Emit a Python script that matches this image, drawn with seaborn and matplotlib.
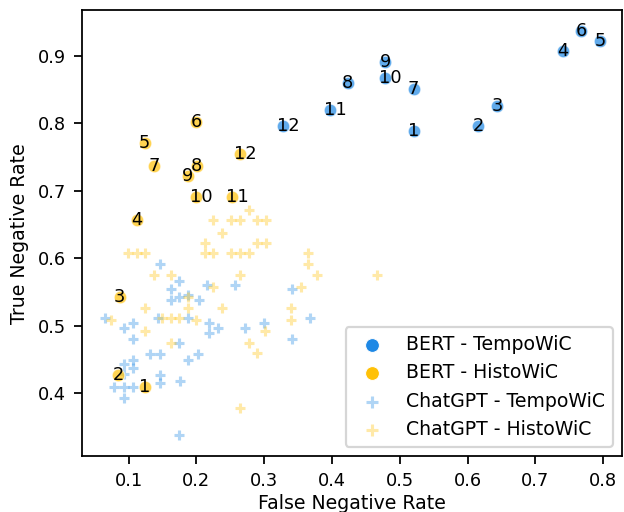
import matplotlib
matplotlib.use("Agg")
import matplotlib.pyplot as plt
import seaborn as sns

BLUE = "#1E88E5"
YELLOW = "#FFC107"

# labels 1..12 for the BERT runs
bert_ids = list(range(1, 13))

bert_tempo_fnr = [0.521, 0.616, 0.644, 0.741, 0.796, 0.768, 0.521, 0.424, 0.479, 0.479, 0.397, 0.328]
bert_tempo_tnr = [0.789, 0.795, 0.826, 0.906, 0.921, 0.937, 0.850, 0.860, 0.890, 0.866, 0.820, 0.795]

bert_histo_fnr = [0.125, 0.085, 0.087, 0.113, 0.124, 0.200, 0.138, 0.201, 0.188, 0.199, 0.253, 0.265]
bert_histo_tnr = [0.409, 0.427, 0.542, 0.657, 0.771, 0.802, 0.737, 0.737, 0.722, 0.690, 0.690, 0.754]

chatgpt_tempo_fnr = [0.065, 0.093, 0.107, 0.107, 0.147, 0.175, 0.162, 0.162, 0.175, 0.188,
                     0.204, 0.144, 0.188, 0.175, 0.132, 0.147, 0.188, 0.203, 0.093, 0.107,
                     0.107, 0.093, 0.147, 0.147, 0.176, 0.078, 0.093, 0.107, 0.093, 0.175,
                     0.218, 0.218, 0.232, 0.216, 0.257, 0.272, 0.300, 0.341, 0.341, 0.368]
chatgpt_tempo_tnr = [0.512, 0.496, 0.504, 0.480, 0.592, 0.567, 0.554, 0.538, 0.542, 0.545,
                     0.538, 0.512, 0.512, 0.475, 0.458, 0.458, 0.450, 0.458, 0.444, 0.449,
                     0.438, 0.428, 0.427, 0.416, 0.418, 0.409, 0.409, 0.409, 0.393, 0.339,
                     0.504, 0.489, 0.496, 0.561, 0.561, 0.496, 0.504, 0.554, 0.481, 0.512]

chatgpt_histo_fnr = [0.099, 0.112, 0.125, 0.225, 0.251, 0.265, 0.290, 0.303, 0.278, 0.238,
                     0.213, 0.213, 0.225, 0.251, 0.265, 0.278, 0.290, 0.303, 0.138, 0.162,
                     0.265, 0.225, 0.188, 0.188, 0.124, 0.238, 0.074, 0.150, 0.162, 0.175,
                     0.200, 0.124, 0.162, 0.278, 0.290, 0.301, 0.265, 0.340, 0.340, 0.354,
                     0.365, 0.365, 0.378, 0.466]
chatgpt_histo_tnr = [0.607, 0.607, 0.607, 0.657, 0.657, 0.657, 0.657, 0.657, 0.672, 0.638,
                     0.623, 0.607, 0.607, 0.607, 0.607, 0.607, 0.623, 0.623, 0.575, 0.575,
                     0.575, 0.558, 0.543, 0.526, 0.526, 0.526, 0.508, 0.511, 0.511, 0.511,
                     0.508, 0.492, 0.475, 0.475, 0.459, 0.492, 0.378, 0.526, 0.509, 0.558,
                     0.607, 0.592, 0.575, 0.575]

fig, ax = plt.subplots(figsize=(3.9, 3.2), dpi=160)
fig.subplots_adjust(left=0.131, right=0.997, top=0.980, bottom=0.109)

# BERT results as circles, ChatGPT prompts as light crosses
sns.scatterplot(x=bert_tempo_fnr, y=bert_tempo_tnr, color=BLUE, s=32, alpha=0.7,
                label="BERT - TempoWiC", ax=ax, zorder=3)
sns.scatterplot(x=bert_histo_fnr, y=bert_histo_tnr, color=YELLOW, s=32, alpha=0.7,
                label="BERT - HistoWiC", ax=ax, zorder=3)
sns.scatterplot(x=chatgpt_tempo_fnr, y=chatgpt_tempo_tnr, color=BLUE, marker="+",
                s=22, linewidth=1.4, alpha=0.35, label="ChatGPT - TempoWiC", ax=ax, zorder=2)
sns.scatterplot(x=chatgpt_histo_fnr, y=chatgpt_histo_tnr, color=YELLOW, marker="+",
                s=22, linewidth=1.4, alpha=0.35, label="ChatGPT - HistoWiC", ax=ax, zorder=2)

for i, x, y in zip(bert_ids, bert_tempo_fnr, bert_tempo_tnr):
    ax.annotate(str(i), (x, y), xytext=(-2.7, 0), textcoords="offset points",
                fontsize=8, va="center", zorder=4)
for i, x, y in zip(bert_ids, bert_histo_fnr, bert_histo_tnr):
    ax.annotate(str(i), (x, y), xytext=(-2.7, 0), textcoords="offset points",
                fontsize=8, va="center", zorder=4)

ax.set_xlim(0.031, 0.828)
ax.set_ylim(0.307, 0.967)
ax.set_xticks([0.1, 0.2, 0.3, 0.4, 0.5, 0.6, 0.7, 0.8])
ax.set_yticks([0.4, 0.5, 0.6, 0.7, 0.8, 0.9])
ax.tick_params(labelsize=8)
ax.set_xlabel("False Negative Rate", fontsize=8.5, labelpad=2)
ax.set_ylabel("True Negative Rate", fontsize=8.5)

leg = ax.legend(loc="lower right", fontsize=8.5, markerscale=1.1)
for h in leg.legend_handles[:2]:
    h.set_alpha(1)

fig.savefig("out.png", dpi=160)
plt.close(fig)
